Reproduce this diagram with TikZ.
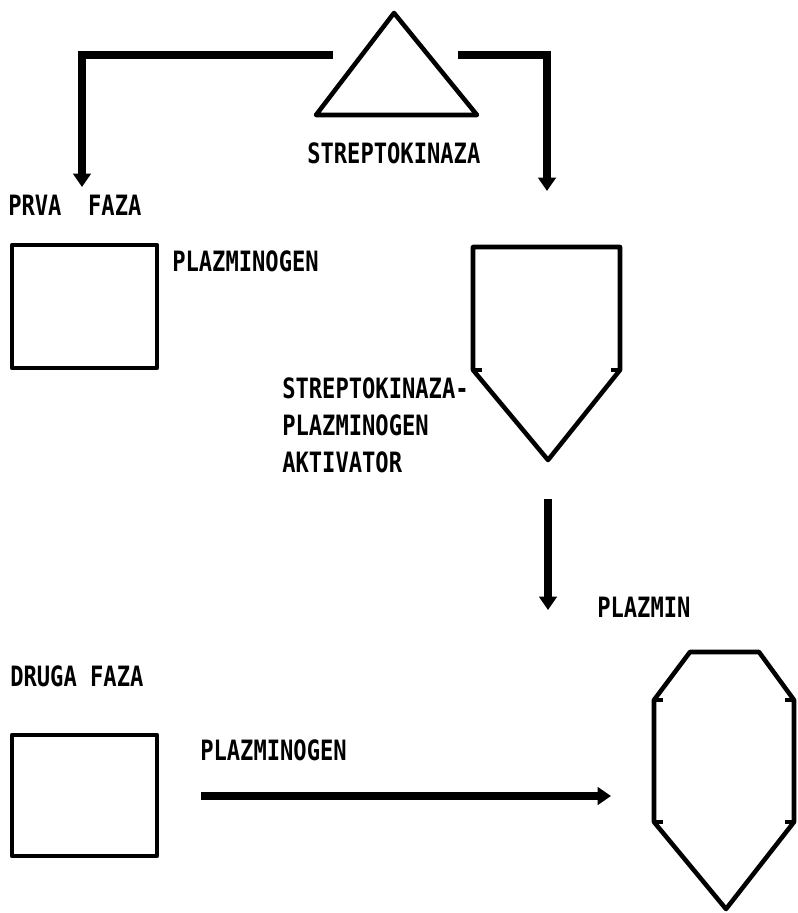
\documentclass[tikz,border=0pt]{standalone}
\usepackage{fontspec}
\newfontfamily\dotfont[FakeStretch=0.79]{DejaVu Sans Mono}
\usetikzlibrary{arrows.meta}
\tikzset{
  lbl/.style={anchor=base west, inner sep=0pt, font=\dotfont\bfseries\fontsize{21pt}{27pt}\selectfont},
  shapeline/.style={draw=black, line width=3.4pt, line join=round},
  conn/.style={draw=black, line width=5.8pt},
  arr/.style={conn, -{Triangle[width=13pt,length=10pt]}},
  tick/.style={draw=black, line width=3pt}
}
\begin{document}
\begin{tikzpicture}[x=0.75pt,y=-0.75pt]
\useasboundingbox (0,0) rectangle (798,913);
% triangle (streptokinaza)
\coordinate (tA) at (394,13);
\coordinate (tL) at (316,115);
\coordinate (tR) at (477,115);
\draw[shapeline] (tA) -- (tL) -- (tR) -- cycle;
% connectors from triangle
\coordinate (cL0) at (333,55);
\coordinate (cL1) at (82,55);
\coordinate (cL2) at (82,187);
\coordinate (cR0) at (458,55);
\coordinate (cR1) at (547,55);
\coordinate (cR2) at (547,191);
\draw[arr] (cL0) -- (cL1) -- (cL2);
\draw[arr] (cR0) -- (cR1) -- (cR2);
% labels
\node[lbl] (strep) at (307,163) {STREPTOKINAZA};
\node[lbl] (prva) at (8,215) {PRVA\ \ FAZA};
\node[lbl] (plg1) at (172,271) {PLAZMINOGEN};
\node[lbl] (act1) at (282,398) {STREPTOKINAZA-};
\node[lbl] (act2) at (282,435) {PLAZMINOGEN};
\node[lbl] (act3) at (282,472) {AKTIVATOR};
\node[lbl] (plm) at (597,617) {PLAZMIN};
\node[lbl] (druga) at (10,686) {DRUGA FAZA};
\node[lbl] (plg2) at (200,760) {PLAZMINOGEN};
% boxes
\draw[shapeline] (12,245) rectangle (157,368);
\draw[shapeline] (12,735) rectangle (157,856);
% pentagon (activator)
\coordinate (p1) at (473,247);
\coordinate (p2) at (620,247);
\coordinate (p3) at (620,370);
\coordinate (p4) at (548,460);
\coordinate (p5) at (473,370);
\draw[shapeline] (p1) -- (p2) -- (p3) -- (p4) -- (p5) -- cycle;
\draw[tick] (p5) -- ++(9,0);
\draw[tick] (p3) -- ++(-9,0);
% vertical arrow
\coordinate (v0) at (548,499);
\coordinate (v1) at (548,610);
\draw[arr] (v0) -- (v1);
% horizontal arrow
\coordinate (h0) at (201,796);
\coordinate (h1) at (611,796);
\draw[arr] (h0) -- (h1);
% plazmin shape
\coordinate (q1) at (690,652);
\coordinate (q2) at (759,652);
\coordinate (q3) at (794,700);
\coordinate (q4) at (794,822);
\coordinate (q5) at (726,909);
\coordinate (q6) at (654,822);
\coordinate (q7) at (654,700);
\draw[shapeline] (q1) -- (q2) -- (q3) -- (q4) -- (q5) -- (q6) -- (q7) -- cycle;
\draw[tick] (q3) -- ++(-9,0);
\draw[tick] (q4) -- ++(-9,0);
\draw[tick] (q6) -- ++(9,0);
\draw[tick] (q7) -- ++(9,0);
\end{tikzpicture}
\end{document}
